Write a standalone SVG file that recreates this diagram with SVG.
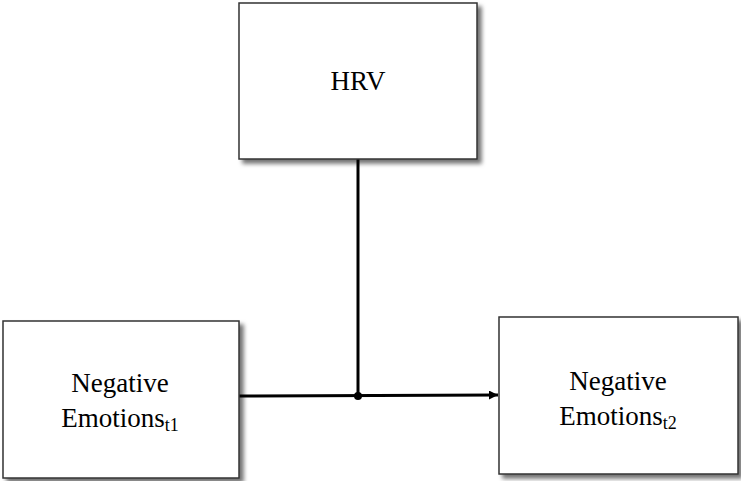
<svg xmlns="http://www.w3.org/2000/svg" width="741" height="481" viewBox="0 0 741 481">
<defs>
<filter id="sh" x="-10%" y="-10%" width="130%" height="130%">
<feDropShadow dx="4" dy="4" stdDeviation="2" flood-color="#000" flood-opacity="0.55"/>
</filter>
<marker id="ah" viewBox="0 0 10 10" refX="10" refY="5" markerWidth="3" markerHeight="3" orient="auto" markerUnits="strokeWidth">
<path d="M0,0 L10,5 L0,10 z" fill="#000"/>
</marker>
<style>
.box{fill:#fff;stroke:#333;stroke-width:1.5;filter:url(#sh)}
.lbl{font-family:'Liberation Serif',serif;font-size:27px;fill:#000;text-anchor:middle}
.sub{font-size:18px}
.con{stroke:#000;stroke-width:3;fill:none}
</style>
</defs>
<g id="connectors">
<line class="con" x1="358" y1="159" x2="358" y2="396"/>
<line class="con" x1="239" y1="396" x2="498" y2="395" marker-end="url(#ah)"/>
<circle cx="358" cy="396" r="4" fill="#000"/>
</g>
<g id="hrv">
<rect class="box" x="239" y="3" width="238" height="156"/>
<text class="lbl" x="358" y="90">HRV</text>
</g>
<g id="ne_t1">
<rect class="box" x="3" y="321" width="236" height="157"/>
<text class="lbl" x="120" y="392">Negative</text>
<text class="lbl" x="120" y="427">Emotions<tspan class="sub" dy="4">t1</tspan></text>
</g>
<g id="ne_t2">
<rect class="box" x="499" y="317" width="239" height="157"/>
<text class="lbl" x="618" y="390">Negative</text>
<text class="lbl" x="618" y="425">Emotions<tspan class="sub" dy="4">t2</tspan></text>
</g>
</svg>
